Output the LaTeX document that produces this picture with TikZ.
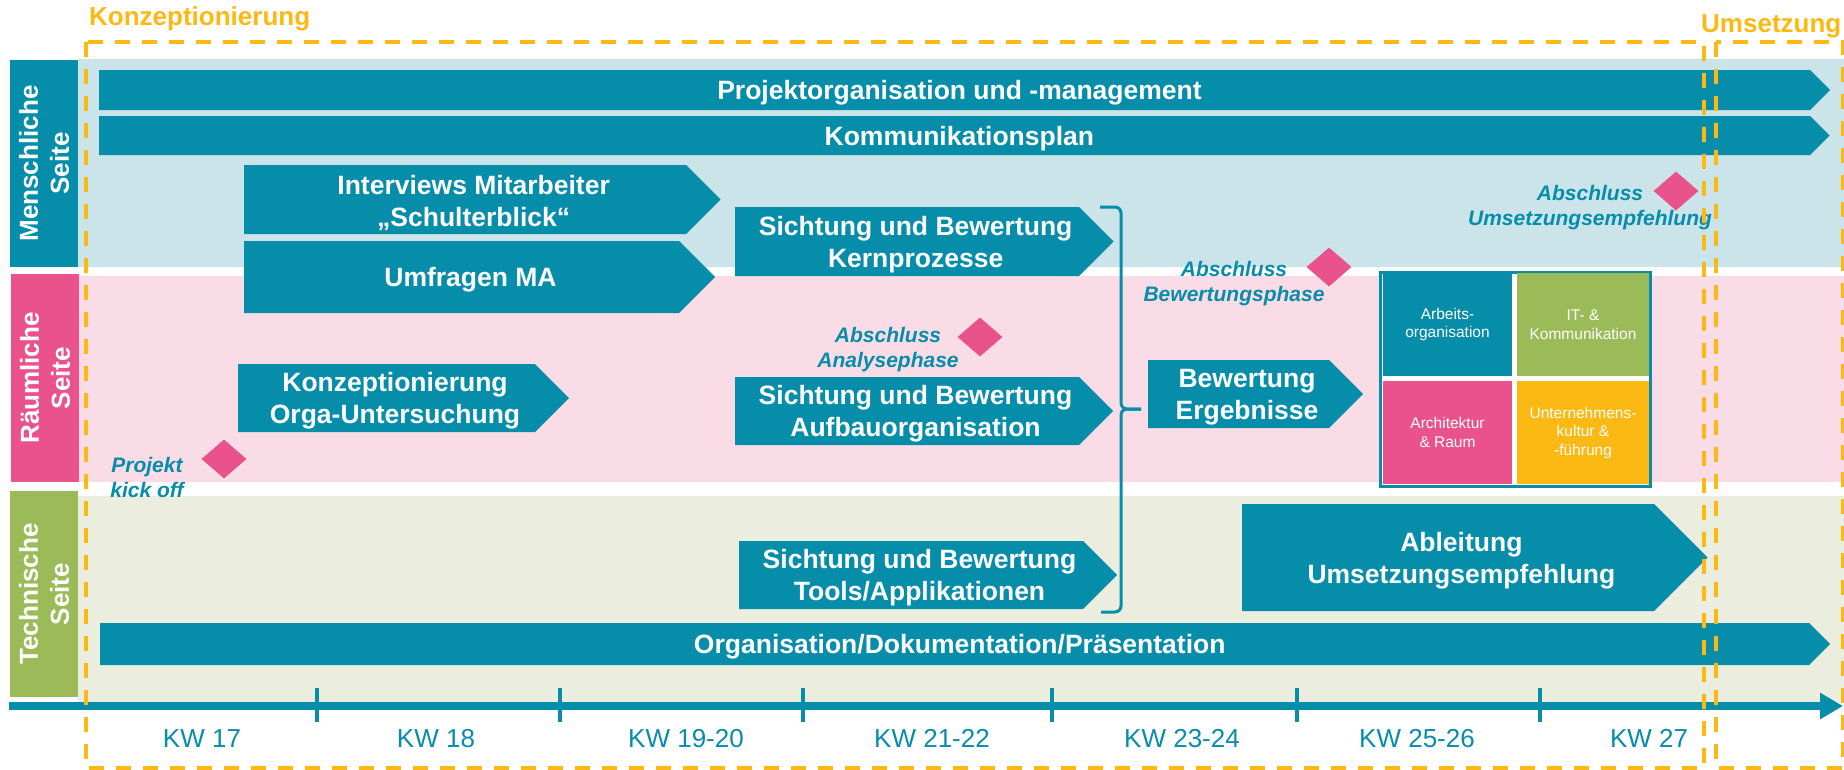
\documentclass[tikz,border=0pt]{standalone}
\usepackage{fontspec}
\setmainfont{Liberation Sans}
\usepackage{tikz}
\usetikzlibrary{shapes.geometric}
\usetikzlibrary{arrows.meta}
\definecolor{tealc}{HTML}{058DA9}
\definecolor{bandblue}{HTML}{CAE4EA}
\definecolor{bandpink}{HTML}{FADCE6}
\definecolor{bandgreen}{HTML}{EBEEDF}
\definecolor{pinkc}{HTML}{E9528A}
\definecolor{greenc}{HTML}{9BBB59}
\definecolor{orangec}{HTML}{FDB913}

\newcommand\phasebar[6]{%
  \fill[barfill] (#2,#3) -- (#4,#3) -- ({#4+(#5-#3)/2},{(#3+#5)/2}) -- (#4,#5) -- (#2,#5) -- cycle;
  \node[bartext] (#1) at ({(#2+#4)/2+(#5-#3)/8},{(#3+#5)/2}) {#6};}

\begin{document}
\begin{tikzpicture}[x=1pt,y=-1pt,
    barfill/.style={fill=tealc},
    bartext/.style={text=white,font=\fontsize{26.5}{32}\selectfont\bfseries,align=center,inner sep=0,yshift=-3pt},
    rowlabel/.style={rotate=90,text=white,font=\fontsize{26}{31}\selectfont\bfseries,align=center,
      minimum width=207,minimum height=68,inner sep=0},
    milestone/.style={diamond,fill=pinkc,minimum width=45,minimum height=39,inner sep=0},
    mstext/.style={text=tealc,font=\fontsize{21}{25}\selectfont\bfseries\itshape,align=center,inner sep=0},
    fieldcell/.style={text=white,font=\fontsize{15.5}{18.5}\selectfont,align=center,
      minimum height=103,inner sep=0},
    kwlabel/.style={text=tealc,font=\fontsize{26}{30}\selectfont,anchor=base},
    kwtick/.style={draw=tealc,line width=4.5},
    timeaxis/.style={draw=tealc,line width=7.5,-{Triangle[length=23pt,width=25pt]}},
    bracepath/.style={draw=tealc,line width=3,rounded corners=6},
    phaseframe/.style={draw=orangec,line width=4,dash pattern=on 15pt off 12pt},
    phasetitle/.style={text=orangec,font=\fontsize{26}{30}\selectfont\bfseries,anchor=base west,inner sep=0}]
  \useasboundingbox (0,0) rectangle (1844,769);

  \fill[bandblue] (78,59) rectangle (1844,267);
  \fill[bandpink] (78,276) rectangle (1844,482);
  \fill[bandgreen] (78,496) rectangle (1844,702);

  \node[rowlabel,fill=tealc] (mensch) at (44,163.5) {Menschliche\\Seite};
  \node[rowlabel,fill=pinkc,minimum width=208] (raum) at (45,378) {Räumliche\\Seite};
  \node[rowlabel,fill=greenc,minimum width=206] (technik) at (44,594) {Technische\\Seite};

  \phasebar{proj}{99}{70}{1810}{110}{Projektorganisation und -management}
  \phasebar{komm}{99}{116}{1810}{155}{Kommunikationsplan}
  \phasebar{interv}{244}{165}{686}{234}{Interviews Mitarbeiter\\„Schulterblick“}
  \phasebar{umfrage}{244}{241}{679}{313}{Umfragen MA}
  \phasebar{konzorga}{238}{364}{535}{432}{Konzeptionierung\\Orga-Untersuchung}
  \phasebar{kern}{735}{207}{1079}{276}{Sichtung und Bewertung\\Kernprozesse}
  \phasebar{aufbau}{735}{377}{1079}{445}{Sichtung und Bewertung\\Aufbauorganisation}
  \phasebar{tools}{739}{541}{1083}{609}{Sichtung und Bewertung\\Tools/Applikationen}
  \phasebar{bewert}{1148}{360}{1329}{428}{Bewertung\\Ergebnisse}
  \phasebar{ableit}{1242}{504}{1654}{611}{Ableitung\\Umsetzungsempfehlung}
  \phasebar{orgdok}{100}{623}{1809}{665}{Organisation/Dokumentation/Präsentation}

  \coordinate (brtop) at (1100,207);
  \coordinate (brbot) at (1101,612);
  \coordinate (brtip) at (1141,409);
  \draw[bracepath] (brtop) -- (1121,207) -- (1121,409) -- (brtip);
  \draw[bracepath] (brbot) -- (1121,612) -- (1121,409) -- (brtip);

  \node[draw=tealc,fill=white,line width=3,minimum width=270,minimum height=214,inner sep=0] (quad) at (1515,379) {};
  \node[fieldcell,fill=tealc,minimum width=129] (arbeit) at (1447.5,324.5) {Arbeits-\\organisation};
  \node[fieldcell,fill=greenc,minimum width=132] (itkom) at (1583,324.5) {IT- \&\\Kommunikation};
  \node[fieldcell,fill=pinkc,minimum width=129] (archi) at (1447.5,432.5) {Architektur\\\& Raum};
  \node[fieldcell,fill=orangec,minimum width=132] (kultur) at (1583,432.5) {Unternehmens-\\kultur \&\\-führung};

  \node[milestone] (kickoff) at (224,459) {};
  \node[mstext] (kickofftext) at (147,477) {Projekt\\kick off};
  \node[milestone] (analyse) at (980,337) {};
  \node[mstext] (analysetext) at (888,350) {Abschluss\\Analysephase};
  \node[milestone] (bewertung) at (1329,267) {};
  \node[mstext] (bewertungtext) at (1234,284) {Abschluss\\Bewertungsphase};
  \node[milestone] (umsetzung) at (1676,191) {};
  \node[mstext] (umsetzungtext) at (1590,208) {Abschluss\\Umsetzungsempfehlung};

  \coordinate (axstart) at (9,706);
  \coordinate (axend) at (1843,706);
  \draw[timeaxis] (axstart) -- (axend);
  \foreach \x in {317,560,803,1052,1297,1540}
    \draw[kwtick] (\x,688) -- (\x,722);
  \foreach \x/\t [count=\i] in {202/KW 17,436/KW 18,686/KW 19-20,932/KW 21-22,1182/KW 23-24,1417/KW 25-26,1649/KW 27}
    \node[kwlabel] (kw\i) at (\x,747) {\t};

  \draw[phaseframe] (86,42) rectangle (1704,768);
  \draw[phaseframe] (1716,42) rectangle (1843,768);
  \node[phasetitle] (konztitle) at (89,25) {Konzeptionierung};
  \node[phasetitle] (umsetztitle) at (1701,32) {Umsetzung};
\end{tikzpicture}
\end{document}
